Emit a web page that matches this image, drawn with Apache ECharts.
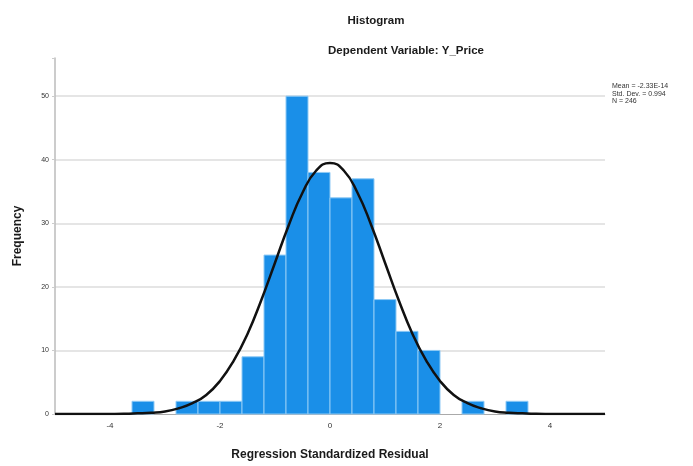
<!DOCTYPE html>
<html>
<head>
<meta charset="utf-8">
<script src="https://cdn.jsdelivr.net/npm/echarts@6/dist/echarts.min.js"></script>
<style>html,body{margin:0;padding:0;background:#fff}#c{width:693px;height:466px}</style>
</head>
<body>
<div id="c"></div>
<script>
// Histogram bins (left edges) and counts, bin width 0.4
var binStarts = [-3.6, -3.2, -2.8, -2.4, -2.0, -1.6, -1.2, -0.8, -0.4, 0.0, 0.4, 0.8, 1.2, 1.6, 2.0, 2.4, 2.8, 3.2];
var binCounts = [2, 0, 2, 2, 2, 9, 25, 50, 38, 34, 37, 18, 13, 10, 0, 2, 0, 2];
var binWidth = 0.4;
// Normal curve
var curveX = [-5, -4.75, -4.5, -4.25, -4, -3.75, -3.5, -3.25, -3, -2.75, -2.5, -2.25, -2, -1.75, -1.5, -1.25, -1, -0.75, -0.5, -0.25, 0, 0.25, 0.5, 0.75, 1, 1.25, 1.5, 1.75, 2, 2.25, 2.5, 2.75, 3, 3.25, 3.5, 3.75, 4, 4.25, 4.5, 4.75, 5];
var curveY = [0, 0, 0, 0, 0.01, 0.03, 0.1, 0.2, 0.4, 0.9, 1.7, 3.0, 5.2, 8.4, 12.6, 17.9, 23.8, 29.7, 34.8, 38.3, 39.5, 38.3, 34.8, 29.7, 23.8, 17.9, 12.6, 8.4, 5.2, 3.0, 1.7, 0.9, 0.4, 0.2, 0.1, 0.03, 0.01, 0, 0, 0, 0];
var xTicks = [-4, -2, 0, 2, 4];
var yTicks = [0, 10, 20, 30, 40, 50];
var titleText = 'Histogram';
var subtitleText = 'Dependent Variable: Y_Price';
var statsLines = ['Mean = -2.33E-14', 'Std. Dev. = 0.994', 'N = 246'];

var histData = binStarts.map(function (s, i) { return [s, s + binWidth, binCounts[i]]; });
var curveData = curveX.map(function (x, i) { return [x, curveY[i]]; });

var chart = echarts.init(document.getElementById('c'), null, {renderer: 'canvas'});
var font = 'Liberation Sans, Arial, sans-serif';
chart.setOption({
  animation: false,
  backgroundColor: '#ffffff',
  title: [
    {text: titleText, left: 371, top: 10, textAlign: 'center',
     textStyle: {fontFamily: font, fontSize: 11.5, fontWeight: 'bold', color: '#1a1a1a'}},
    {text: subtitleText, left: 401, top: 40, textAlign: 'center',
     textStyle: {fontFamily: font, fontSize: 11.5, fontWeight: 'bold', color: '#1a1a1a'}}
  ],
  graphic: statsLines.map(function (t, i) {
    return {type: 'text', left: 612, top: 83 + i * 7.5,
      style: {text: t, font: '7px ' + font, fill: '#333'}};
  }),
  grid: {left: 55, right: 88, top: 58, bottom: 50, containLabel: false},
  xAxis: {
    type: 'value', min: -5, max: 5, interval: 1,
    name: 'Regression Standardized Residual', nameLocation: 'middle', nameGap: 35,
    nameTextStyle: {fontFamily: font, fontSize: 12, fontWeight: 'bold', color: '#1a1a1a'},
    axisLine: {show: true, onZero: false, lineStyle: {color: '#aaaaaa', width: 1}},
    axisTick: {show: false},
    axisLabel: {customValues: xTicks, fontFamily: font, fontSize: 8, color: '#333', margin: 8},
    splitLine: {show: false}
  },
  yAxis: {
    type: 'value', min: 0, max: 56, interval: 10,
    name: 'Frequency', nameLocation: 'middle', nameGap: 31,
    nameTextStyle: {fontFamily: font, fontSize: 12, fontWeight: 'bold', color: '#1a1a1a'},
    axisLine: {show: true, onZero: false, lineStyle: {color: '#bbbbbb', width: 1.5}},
    axisTick: {show: true, length: 3, lineStyle: {color: '#cccccc'}},
    axisLabel: {customValues: yTicks, fontFamily: font, fontSize: 7, color: '#333', margin: 6},
    splitLine: {show: true, showMaxLine: false, showMinLine: false, lineStyle: {color: '#dddddd', width: 1.5}}
  },
  series: [
    {
      type: 'custom',
      data: histData,
      encode: {x: [0, 1], y: 2},
      renderItem: function (params, api) {
        var v = api.value(2);
        if (!v) return null;
        var p0 = api.coord([api.value(0), v]);
        var p1 = api.coord([api.value(1), 0]);
        return {
          type: 'rect',
          shape: {x: p0[0], y: p0[1], width: p1[0] - p0[0], height: p1[1] - p0[1]},
          style: {fill: '#1a8fe8', stroke: '#8fcaf5', lineWidth: 1}
        };
      },
      z: 2
    },
    {
      type: 'line',
      data: curveData,
      smooth: true,
      showSymbol: false,
      lineStyle: {color: '#111111', width: 2.5},
      z: 3
    }
  ]
});
</script>
</body>
</html>
